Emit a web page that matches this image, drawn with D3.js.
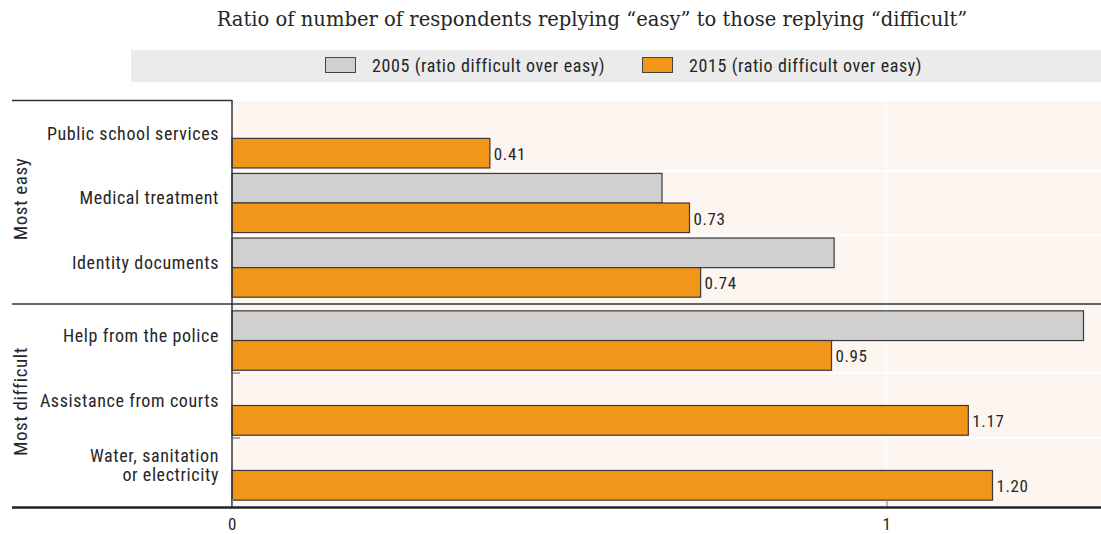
<!DOCTYPE html>
<html lang="en">
<head>
    <meta charset="UTF-8">
    <title>Ratio easy / difficult</title>
    <script src="https://cdn.jsdelivr.net/npm/d3@7"></script>
    <style>
        body { margin: 0; background: #fff; }
        text { fill: #262626; }
        .cond { font-family: "Roboto Condensed", "Liberation Sans Narrow", "DejaVu Sans Condensed", sans-serif; letter-spacing: 0.6px; }
    </style>
</head>
<body>

<script>

    // data
    var facets = ["Most easy", "Most difficult"];
    var categories = [
        ["Public school services", "Medical treatment", "Identity documents"],
        ["Help from the police", "Assistance from courts", "Water, sanitation\nor electricity"]
    ];
    var years = ["2005", "2015"];
    var legendLabels = ["2005 (ratio difficult over easy)", "2015 (ratio difficult over easy)"];
    // bar lengths as drawn (null = no bar)
    var values2005 = [[null, 0.657, 0.920], [1.301, null, null]];
    var values2015 = [[0.394, 0.699, 0.716], [0.916, 1.125, 1.162]];
    // printed labels next to the 2015 bars
    var labels2015 = [["0.41", "0.73", "0.74"], ["0.95", "1.17", "1.20"]];
    var xTicks = [0, 1];

    var width = 1101, height = 534;
    var colors = {"2005": "#d0d0d0", "2015": "#f29619"};

    var svg = d3.select("body").append("svg")
        .attr("width", width)
        .attr("height", height);

    var left = 232, stripLeft = 12;
    var panels = [[103, 303], [305, 506]];

    var xScale = d3.scaleLinear()
        .domain([0, 1])
        .range([left, 886.5]);

    // subtitle, sized to the reference width
    var subtitle = svg.append("text")
        .attr("x", 592)
        .attr("y", 26)
        .attr("text-anchor", "middle")
        .attr("font-family", "'DejaVu Serif', 'Liberation Serif', serif")
        .attr("font-size", "16px")
        .text("Ratio of number of respondents replying \u201ceasy\u201d to those replying \u201cdifficult\u201d");
    var w0 = subtitle.node().getComputedTextLength();
    subtitle.attr("font-size", (16 * 751 / w0) + "px");

    // legend
    var legend = svg.append("g");
    legend.append("rect")
        .attr("x", 131).attr("y", 50)
        .attr("width", width - 131).attr("height", 32)
        .attr("fill", "#ebebeb");
    var legendX = [325, 642];
    years.forEach(function (y, i) {
        legend.append("rect")
            .attr("x", legendX[i] + 0.5).attr("y", 57.5)
            .attr("width", 30).attr("height", 15)
            .attr("fill", colors[y])
            .attr("stroke", "#444");
        legend.append("text")
            .attr("class", "cond")
            .attr("x", legendX[i] + 47)
            .attr("y", 66)
            .attr("dy", "0.35em")
            .attr("font-size", "18px")
            .text(legendLabels[i]);
    });

    // panels
    facets.forEach(function (f, fi) {
        var top = panels[fi][0], bottom = panels[fi][1];
        var g = svg.append("g");

        g.append("rect")
            .attr("x", left).attr("y", top - 2)
            .attr("width", width - left).attr("height", bottom - top + 2)
            .attr("fill", "#fdf6f0");

        var yScale = d3.scaleBand()
            .domain(categories[fi])
            .range([top, bottom])
            .paddingInner(0.085)
            .paddingOuter(0.09);
        var sub = d3.scaleBand()
            .domain(years)
            .range([0, yScale.bandwidth()]);

        // white grid
        categories[fi].forEach(function (c, ci) {
            if (ci > 0) {
                var yy = yScale(c) - yScale.step() * yScale.paddingInner() / 2;
                g.append("line")
                    .attr("x1", left).attr("x2", width)
                    .attr("y1", yy).attr("y2", yy)
                    .attr("stroke", "#fff").attr("stroke-width", 1.5);
                if (fi === 1) {
                    g.append("line")
                        .attr("x1", left).attr("x2", left + 8)
                        .attr("y1", yy).attr("y2", yy)
                        .attr("stroke", "#555").attr("stroke-width", 1);
                }
            }
        });
        xTicks.forEach(function (t) {
            g.append("line")
                .attr("x1", xScale(t)).attr("x2", xScale(t))
                .attr("y1", top - 2).attr("y2", bottom)
                .attr("stroke", "#fff").attr("stroke-width", 1.5);
        });

        // bars
        [values2005[fi], values2015[fi]].forEach(function (vals, yi) {
            var yr = years[yi];
            g.selectAll(".bar" + yr)
                .data(vals.map(function (v, i) { return {v: v, c: categories[fi][i]}; })
                    .filter(function (d) { return d.v !== null; }))
                .join("rect")
                .attr("x", xScale(0))
                .attr("y", function (d) { return yScale(d.c) + sub(yr); })
                .attr("width", function (d) { return xScale(d.v) - xScale(0); })
                .attr("height", sub.bandwidth())
                .attr("fill", colors[yr])
                .attr("stroke", "#3a3a3a")
                .attr("stroke-width", 1.2);
        });

        // value labels
        g.selectAll(".val")
            .data(values2015[fi])
            .join("text")
            .attr("class", "cond")
            .attr("x", function (d) { return xScale(d) + 4; })
            .attr("y", function (d, i) { return yScale(categories[fi][i]) + sub("2015") + sub.bandwidth() / 2 + 1; })
            .attr("dy", "0.35em")
            .attr("font-size", "17px")
            .text(function (d, i) { return labels2015[fi][i]; });

        // category labels
        categories[fi].forEach(function (c) {
            var lines = c.split("\n");
            var cy = yScale(c) + yScale.bandwidth() / 2 - 5;
            var t = g.append("text")
                .attr("class", "cond")
                .attr("text-anchor", "end")
                .attr("font-size", "18px");
            lines.forEach(function (l, li) {
                t.append("tspan")
                    .attr("x", 219)
                    .attr("y", cy + (li - (lines.length - 1) / 2) * 19)
                    .attr("dy", "0.35em")
                    .text(l);
            });
        });

        // facet strip label
        g.append("text")
            .attr("class", "cond")
            .attr("transform", "translate(20," + ((top + bottom) / 2 - 4) + ") rotate(-90)")
            .attr("text-anchor", "middle")
            .attr("dy", "0.35em")
            .attr("font-size", "19px")
            .text(f);
    });

    // frame lines
    svg.append("line")
        .attr("x1", stripLeft).attr("x2", left)
        .attr("y1", 100.5).attr("y2", 100.5)
        .attr("stroke", "#333").attr("stroke-width", 1.5);
    svg.append("line")
        .attr("x1", stripLeft).attr("x2", width)
        .attr("y1", 304).attr("y2", 304)
        .attr("stroke", "#333").attr("stroke-width", 1.3);
    svg.append("line")
        .attr("x1", left).attr("x2", left)
        .attr("y1", 100).attr("y2", 507)
        .attr("stroke", "#333").attr("stroke-width", 1.5);

    // x axis
    var xAxis = d3.axisBottom(xScale)
        .tickValues(xTicks)
        .tickFormat(d3.format("d"))
        .tickSize(8)
        .tickPadding(11);
    var ax = svg.append("g")
        .attr("transform", "translate(0,499)")
        .call(xAxis);
    ax.select(".domain").remove();
    ax.selectAll(".tick line").attr("stroke", "#777");
    ax.selectAll(".tick text")
        .attr("class", "cond")
        .attr("font-size", "17px")
        .attr("fill", "#262626");
    svg.append("line")
        .attr("x1", stripLeft).attr("x2", width)
        .attr("y1", 507.5).attr("y2", 507.5)
        .attr("stroke", "#222").attr("stroke-width", 2.5);

</script>

</body>
</html>
